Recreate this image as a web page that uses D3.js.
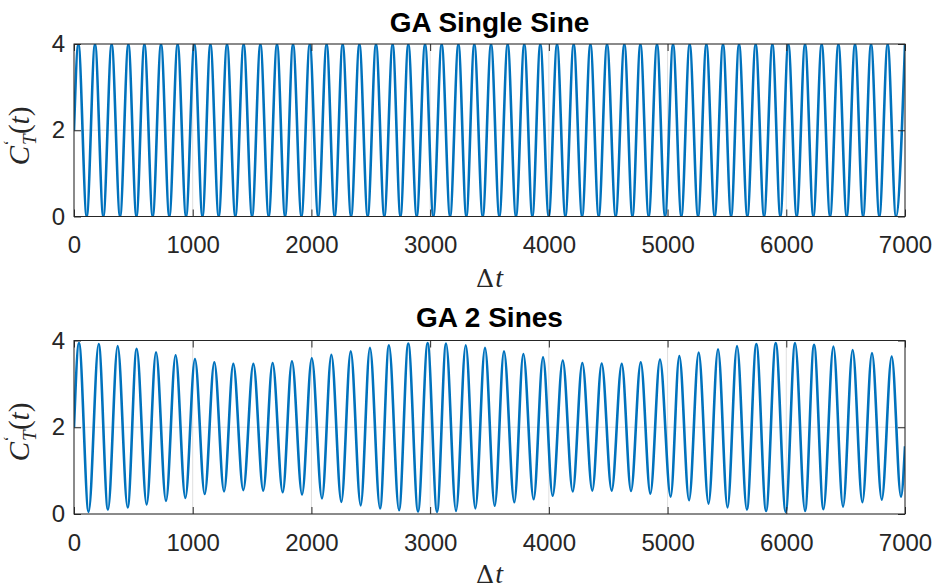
<!DOCTYPE html>
<html>
<head>
<meta charset="utf-8">
<script src="https://cdn.jsdelivr.net/npm/d3@7"></script>
<style>
  html, body { margin: 0; padding: 0; background: #fff; }
  svg { display: block; }
</style>
</head>
<body>
<svg id="chart" width="936" height="588"></svg>
<script>
// ---------------- DATA ----------------
const xTicks = [0, 1000, 2000, 3000, 4000, 5000, 6000, 7000];
const yTicks = [0, 2, 4];
const titles = ["GA Single Sine", "GA 2 Sines"];

// Top panel: start point, then alternating peaks / troughs, then end point
const topT = [0,37,107,177,247,317,388,458,526,593,663,733,803,873,944,1014,1082,1149,1219,1289,1359,1429,1500,1570,1640,1710,1778,1845,1916,1986,2057,2128,2196,2263,2334,2404,2474,2544,2614,2684,2750,2816,2887,2957,3027,3097,3168,3238,3305,3372,3443,3513,3583,3653,3723,3793,3861,3928,3999,4069,4139,4209,4280,4350,4420,4490,4563,4636,4704,4771,4841,4911,4979,5046,5116,5186,5257,5327,5397,5467,5535,5602,5672,5742,5813,5883,5950,6017,6088,6158,6228,6298,6369,6439,6509,6579,6647,6714,6784,6854,6924,7000];
const topV = [2,4,0,4,0,4,0,4,0,4,0,4,0,4,0,4,0,4,0,4,0,4,0,4,0,4,0,4,0,4,0,4,0,4,0,4,0,4,0,4,0,4,0,4,0,4,0,4,0,4,0,4,0,4,0,4,0,4,0,4,0,4,0,4,0,4,0,4,0,4,0,4,0,4,0,4,0,4,0,4,0,4,0,4,0,4,0,4,0,4,0,4,0,4,0,4,0,4,0,4,0,4];

// Bottom panel: start point, alternating peaks / troughs, end point
const botT = [0,42,123,208,286,368,452,528,612,691,775,856,938,1019,1101,1182,1264,1342,1426,1511,1594,1673,1758,1836,1921,2003,2089,2168,2252,2331,2415,2493,2578,2653,2738,2816,2898,2979,3058,3134,3218,3300,3381,3462,3544,3622,3709,3785,3872,3951,4032,4117,4201,4282,4366,4445,4529,4614,4692,4774,4855,4936,5026,5099,5181,5262,5345,5425,5505,5585,5668,5748,5830,5911,5995,6074,6158,6234,6313,6397,6478,6559,6641,6722,6804,6888,6966,7000];
const botV = [2,3.94,0.05,3.92,0.10,3.87,0.15,3.81,0.22,3.73,0.30,3.66,0.37,3.57,0.46,3.50,0.52,3.46,0.55,3.46,0.54,3.48,0.50,3.52,0.45,3.59,0.36,3.67,0.28,3.75,0.20,3.83,0.13,3.89,0.09,3.93,0.06,3.94,0.05,3.93,0.07,3.89,0.13,3.83,0.19,3.75,0.27,3.69,0.34,3.61,0.42,3.54,0.52,3.48,0.54,3.47,0.54,3.46,0.53,3.50,0.47,3.56,0.40,3.64,0.32,3.72,0.24,3.80,0.15,3.87,0.10,3.92,0.07,3.94,0.05,3.94,0.07,3.90,0.11,3.86,0.17,3.78,0.27,3.71,0.33,3.63,0.40,1.56];

// ---------------- LAYOUT ----------------
const svg = d3.select("#chart");
const axisColor = "#262626";
const lineColor = "#0072BD";
const left = 74, right = 905;
const panels = [
  { top: 44,    bottom: 216.5, t: topT, v: topV, title: titles[0], titleY: 32,  xlabY: 287, ylabY: 136, tickPad: 19.5 },
  { top: 340.5, bottom: 514,   t: botT, v: botV, title: titles[1], titleY: 327, xlabY: 583, ylabY: 432, tickPad: 20 }
];
const tickLen = 7;

panels.forEach((p, i) => {
  const x = d3.scaleLinear().domain([0, 7000]).range([left, right]);
  const y = d3.scaleLinear().domain([0, 4]).range([p.bottom, p.top]);
  const g = svg.append("g");
  const w = right - left, h = p.bottom - p.top;

  // grid
  g.append("g").selectAll("line.gx").data(xTicks).join("line")
    .attr("x1", d => x(d)).attr("x2", d => x(d))
    .attr("y1", p.top).attr("y2", p.bottom)
    .attr("stroke", axisColor).attr("stroke-opacity", 0.15).attr("stroke-width", 1);
  g.append("g").selectAll("line.gy").data(yTicks).join("line")
    .attr("x1", left).attr("x2", right)
    .attr("y1", d => y(d)).attr("y2", d => y(d))
    .attr("stroke", axisColor).attr("stroke-opacity", 0.15).attr("stroke-width", 1);

  // data line (clipped to axes)
  const clipId = "clip" + i;
  svg.append("clipPath").attr("id", clipId)
    .append("rect").attr("x", left).attr("y", p.top).attr("width", w).attr("height", h);
  const pts = p.t.map((t, k) => [t, p.v[k]]);
  const line = d3.line().x(d => x(d[0])).y(d => y(d[1])).curve(d3.curveMonotoneX);
  g.append("path").datum(pts)
    .attr("clip-path", `url(#${clipId})`)
    .attr("fill", "none").attr("stroke", lineColor).attr("stroke-width", 2.6)
    .attr("stroke-linejoin", "round")
    .attr("d", line);

  // axes
  const styleAxis = (sel, hideLabels) => {
    sel.select(".domain").remove();
    sel.selectAll(".tick line").attr("stroke", axisColor).attr("stroke-width", 1);
    sel.selectAll(".tick text")
      .attr("fill", axisColor)
      .attr("font-family", "'Liberation Sans', Arial, Helvetica, sans-serif")
      .attr("font-size", 24);
    if (hideLabels) sel.selectAll(".tick text").remove();
  };
  g.append("g").attr("transform", `translate(0,${p.bottom})`)
    .call(d3.axisBottom(x).tickValues(xTicks).tickFormat(d3.format("d")).tickSize(-tickLen).tickPadding(p.tickPad))
    .call(s => styleAxis(s, false));
  g.append("g").attr("transform", `translate(0,${p.top})`)
    .call(d3.axisTop(x).tickValues(xTicks).tickSize(-tickLen))
    .call(s => styleAxis(s, true));
  g.append("g").attr("transform", `translate(${left},0)`)
    .call(d3.axisLeft(y).tickValues(yTicks).tickFormat(d3.format("d")).tickSize(-tickLen).tickPadding(9))
    .call(s => styleAxis(s, false));
  g.append("g").attr("transform", `translate(${right},0)`)
    .call(d3.axisRight(y).tickValues(yTicks).tickSize(-tickLen))
    .call(s => styleAxis(s, true));

  // box
  g.append("rect").attr("x", left).attr("y", p.top).attr("width", w).attr("height", h)
    .attr("fill", "none").attr("stroke", axisColor).attr("stroke-width", 1);

  // title
  g.append("text").attr("x", (left + right) / 2).attr("y", p.titleY)
    .attr("text-anchor", "middle")
    .attr("font-family", "'Liberation Sans', Arial, Helvetica, sans-serif")
    .attr("font-weight", "bold").attr("font-size", 28).attr("fill", "#000")
    .text(p.title);

  // x label  Δt
  const xl = g.append("text").attr("x", (left + right) / 2).attr("y", p.xlabY)
    .attr("text-anchor", "middle")
    .attr("font-family", "'Liberation Serif', 'DejaVu Serif', serif")
    .attr("font-size", 28).attr("fill", axisColor);
  xl.append("tspan").attr("font-family", "'DejaVu Serif', serif").attr("font-size", 25).text("Δ");
  xl.append("tspan").attr("font-style", "italic").attr("dx", 1).text("t");

  // y label  C'_T(t)
  const yl = g.append("text")
    .attr("transform", `translate(29,${p.ylabY}) rotate(-90)`)
    .attr("text-anchor", "middle")
    .attr("font-family", "'Liberation Serif', 'DejaVu Serif', serif")
    .attr("font-size", 29).attr("fill", axisColor);
  yl.append("tspan").attr("font-style", "italic").text("C");
  yl.append("tspan").attr("font-style", "italic").attr("font-size", 19).attr("dx", 1).attr("dy", 7).text("T");
  yl.append("tspan").attr("font-size", 16).attr("dx", -11).attr("dy", -21).text("ʻ");
  yl.append("tspan").attr("dx", 6).attr("dy", 14).text("(");
  yl.append("tspan").attr("font-style", "italic").text("t");
  yl.append("tspan").text(")");
});
</script>
</body>
</html>
